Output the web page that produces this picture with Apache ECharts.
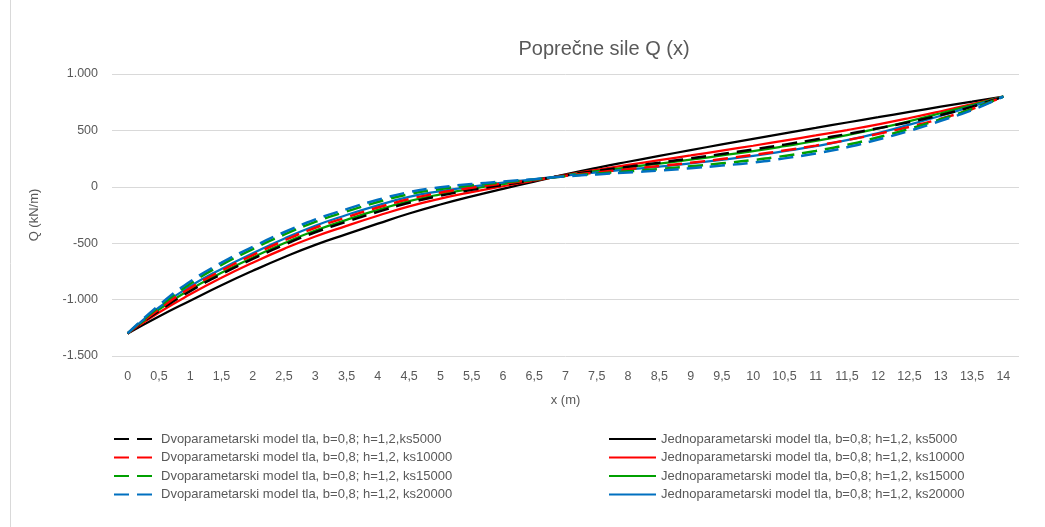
<!DOCTYPE html>
<html>
<head>
<meta charset="utf-8">
<script src="https://cdn.jsdelivr.net/npm/echarts@6/dist/echarts.min.js"></script>
<style>
html,body{margin:0;padding:0;background:#fff;}
#chart{width:1045px;height:527px;}
</style>
</head>
<body>
<div id="chart"></div>
<script>
var xCategories = ['0','0,5','1','1,5','2','2,5','3','3,5','4','4,5','5','5,5','6','6,5','7','7,5','8','8,5','9','9,5','10','10,5','11','11,5','12','12,5','13','13,5','14'];
var yTicks = [-1500, -1000, -500, 0, 500, 1000];

// Dvoparametarski (two-parameter) model - dashed
var dvo5000  = [-1300,-1100,-925,-775,-640,-515,-403,-310,-222,-142,-79,-27,17,58,102,141,177,214,252,291,331,374,419,468,519,574,636,710,800];
var dvo10000 = [-1300,-1085,-898,-743,-605,-477,-363,-270,-184,-109,-52,-8,29,61,98,128,156,184,213,246,282,322,365,414,469,532,604,690,800];
var dvo15000 = [-1300,-1065,-860,-693,-552,-424,-311,-219,-135,-65,-20,13,39,64,94,116,137,158,182,208,237,274,318,372,439,514,600,691,800];
var dvo20000 = [-1300,-1050,-840,-673,-532,-403,-290,-198,-115,-47,-5,25,47,68,92,110,127,144,165,188,215,252,296,350,419,496,585,680,800];

// Jednoparametarski (one-parameter) model - solid
var jed5000  = [-1300,-1150,-1010,-873,-745,-625,-515,-420,-327,-237,-157,-85,-18,46,110,168,222,274,325,376,425,474,522,570,617,664,710,755,800];
var jed10000 = [-1300,-1115,-953,-806,-673,-550,-440,-346,-257,-174,-105,-47,5,54,105,151,194,236,278,321,364,409,455,503,554,610,670,733,800];
var jed15000 = [-1300,-1088,-910,-761,-627,-501,-388,-293,-205,-127,-67,-18,24,61,102,138,172,206,240,278,317,360,406,458,517,582,652,725,800];
var jed20000 = [-1300,-1070,-882,-728,-590,-460,-345,-250,-164,-90,-39,2,37,66,100,128,154,179,207,239,275,316,360,413,477,551,630,713,800];

var dvoNames = [
  'Dvoparametarski model tla, b=0,8; h=1,2,ks5000',
  'Dvoparametarski model tla, b=0,8; h=1,2, ks10000',
  'Dvoparametarski model tla, b=0,8; h=1,2, ks15000',
  'Dvoparametarski model tla, b=0,8; h=1,2, ks20000'
];
var jedNames = [
  'Jednoparametarski model tla, b=0,8; h=1,2, ks5000',
  'Jednoparametarski model tla, b=0,8; h=1,2, ks10000',
  'Jednoparametarski model tla, b=0,8; h=1,2, ks15000',
  'Jednoparametarski model tla, b=0,8; h=1,2, ks20000'
];
var colors = ['#000000', '#FF0000', '#00A000', '#0070C0'];
var dvoData = [dvo5000, dvo10000, dvo15000, dvo20000];
var jedData = [jed5000, jed10000, jed15000, jed20000];

var FONT = "'Liberation Sans', Arial, sans-serif";
var TXT = '#595959';

var series = [];
for (var i = 0; i < 4; i++) {
  series.push({
    name: dvoNames[i], type: 'line', data: dvoData[i], symbol: 'none', smooth: true,
    lineStyle: { color: colors[i], width: 2.5, type: [15, 8] },
    itemStyle: { color: colors[i] }, z: 3
  });
}
for (var j = 0; j < 4; j++) {
  series.push({
    name: jedNames[j], type: 'line', data: jedData[j], symbol: 'none', smooth: true,
    lineStyle: { color: colors[j], width: 2.25, type: 'solid' },
    itemStyle: { color: colors[j] }, z: 2
  });
}

function fmt(v) {
  var s = Math.abs(v).toString();
  if (Math.abs(v) >= 1000) s = s.slice(0, s.length - 3) + '.' + s.slice(s.length - 3);
  return (v < 0 ? '-' : '') + s;
}

var legendText = { fontFamily: FONT, fontSize: 13, color: TXT };

var chart = echarts.init(document.getElementById('chart'), null, { renderer: 'canvas' });
chart.setOption({
  animation: false,
  backgroundColor: '#ffffff',
  title: {
    text: 'Poprečne sile Q (x)',
    left: 599, top: 34, textAlign: 'center',
    textStyle: { fontFamily: FONT, fontSize: 20, fontWeight: 'normal', color: TXT }
  },
  graphic: [{
    type: 'line', shape: { x1: 10.5, y1: 0, x2: 10.5, y2: 527 },
    style: { stroke: '#d9d9d9', lineWidth: 1 }, silent: true
  }],
  grid: { left: 112, right: 26, top: 74, bottom: 171, containLabel: false },
  xAxis: {
    type: 'category', data: xCategories, boundaryGap: true,
    name: 'x (m)', nameLocation: 'middle', nameGap: 38,
    nameTextStyle: { fontFamily: FONT, fontSize: 13, color: TXT },
    axisLine: { show: false }, axisTick: { show: false },
    axisLabel: { interval: 0, margin: 14, fontFamily: FONT, fontSize: 12.5, color: TXT },
    splitLine: { show: false }
  },
  yAxis: {
    type: 'value', min: yTicks[0], max: yTicks[yTicks.length - 1], interval: 500,
    name: 'Q (kN/m)', nameLocation: 'middle', nameGap: 71, nameRotate: 90,
    nameTextStyle: { fontFamily: FONT, fontSize: 13, color: TXT },
    axisLine: { show: false }, axisTick: { show: false },
    axisLabel: { margin: 14, fontFamily: FONT, fontSize: 12.5, color: TXT, formatter: fmt },
    splitLine: { show: true, lineStyle: { color: '#d9d9d9', width: 1 } }
  },
  legend: [{
    data: dvoNames, orient: 'vertical', left: 108, top: 427.5,
    itemWidth: 42, itemHeight: 10, itemGap: 5.5,
    itemStyle: { opacity: 0 },
    textStyle: legendText
  }, {
    data: jedNames, orient: 'vertical', left: 603, top: 427.5,
    itemWidth: 47, itemHeight: 10, itemGap: 5.5,
    itemStyle: { opacity: 0 },
    textStyle: legendText
  }],
  series: series
});
</script>
</body>
</html>
